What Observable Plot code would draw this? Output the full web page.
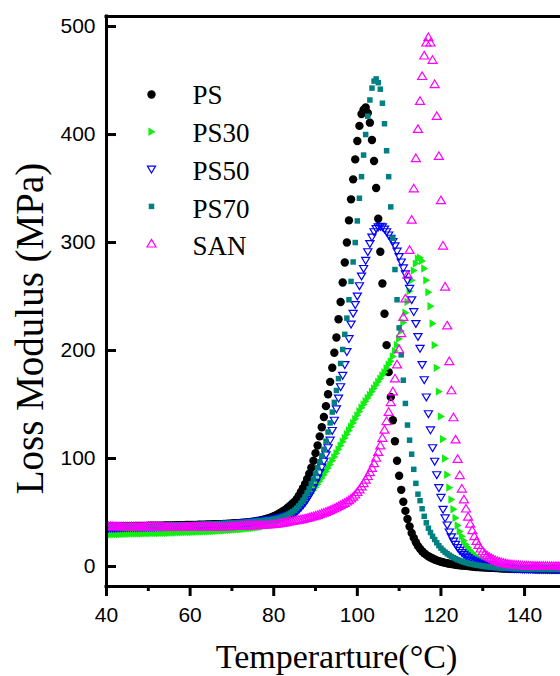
<!DOCTYPE html>
<html>
<head>
<meta charset="utf-8">
<script src="https://cdn.jsdelivr.net/npm/d3@7"></script>
<script src="https://cdn.jsdelivr.net/npm/@observablehq/plot@0.6"></script>
<style>
  html, body { margin: 0; padding: 0; background: #fff; }
</style>
</head>
<body>
<div id="chart"></div>
<script>
// Sample temperatures (°C)
const temperature = [
  40,40.5,41,41.5,42,42.5,43,43.5,44,44.5,
  45,45.5,46,46.5,47,47.5,48,48.5,49,49.5,
  50,50.5,51,51.5,52,52.5,53,53.5,54,54.5,
  55,55.5,56,56.5,57,57.5,58,58.5,59,59.5,
  60,60.5,61,61.5,62,62.5,63,63.5,64,64.5,
  65,65.5,66,66.5,67,67.5,68,68.5,69,69.5,
  70,70.5,71,71.5,72,72.5,73,73.5,74,74.5,
  75,75.5,76,76.5,77,77.5,78,78.5,79,79.5,
  80,80.5,81,81.5,82,82.5,83,83.5,84,84.5,
  85,85.5,86,86.5,87,87.5,88,88.5,89,89.5,
  90,90.5,91,91.5,92,92.5,93,93.5,94,94.5,
  95,95.5,96,96.5,97,97.5,98,98.5,99,99.5,
  100,100.5,101,101.5,102,102.5,103,103.5,104,104.5,
  105,105.5,106,106.5,107,107.5,108,108.5,109,109.5,
  110,110.5,111,111.5,112,112.5,113,113.5,114,114.5,
  115,115.5,116,116.5,117,117.5,118,118.5,119,119.5,
  120,120.5,121,121.5,122,122.5,123,123.5,124,124.5,
  125,125.5,126,126.5,127,127.5,128,128.5,129,129.5,
  130,130.5,131,131.5,132,132.5,133,133.5,134,134.5,
  135,135.5,136,136.5,137,137.5,138,138.5,139,139.5,
  140,140.5,141,141.5,142,142.5,143,143.5,144,144.5,
  145,145.5,146,146.5,147,147.5,148,148.5,149,149.5,
  150
];

// Loss modulus (MPa) per series
const ps = [
  37.0,37.0,37.1,37.1,37.1,37.2,37.2,37.2,37.3,37.3,
  37.3,37.4,37.4,37.4,37.5,37.5,37.5,37.6,37.6,37.6,
  37.7,37.7,37.7,37.8,37.8,37.8,37.9,37.9,38.0,38.0,
  38.0,38.1,38.1,38.2,38.2,38.2,38.3,38.3,38.4,38.4,
  38.5,38.5,38.6,38.6,38.7,38.7,38.8,38.8,38.9,38.9,
  39.0,39.1,39.1,39.2,39.3,39.3,39.4,39.5,39.6,39.7,
  39.9,40.0,40.1,40.2,40.3,40.5,40.6,40.8,41.0,41.2,
  41.5,41.8,42.1,42.5,42.9,43.3,43.8,44.4,45.0,45.7,
  46.5,47.4,48.4,49.5,50.7,52.0,53.4,55.0,56.6,58.3,
  60.0,62.5,65.5,69.0,72.5,76.5,81.0,86.0,91.5,98.0,
  105,112,120.5,129,138.5,148.5,159.5,171,184,198,
  212,229,245,263,281.5,300,320.5,340,358.5,377,
  394,408,419,423,425,420,411,395,375.5,350.5,
  322,291.5,262,234,205,180,157,135.5,116,98,
  84,71,60,51.5,44,37,31,26.5,22.5,19,
  16.5,14.2,12.3,10.8,9.5,8.4,7.4,6.5,5.7,5.0,
  4.4,3.9,3.4,3.0,2.6,2.3,2.0,1.7,1.4,1.2,
  1.0,0.8,0.6,0.4,0.2,0.0,-0.2,-0.4,-0.5,-0.7,
  -0.8,-0.9,-1.0,-1.1,-1.2,-1.3,-1.4,-1.5,-1.6,-1.7,
  -1.8,-1.8,-1.9,-2.0,-2.0,-2.1,-2.1,-2.2,-2.2,-2.3,
  -2.3,-2.3,-2.4,-2.4,-2.4,-2.5,-2.5,-2.5,-2.5,-2.6,
  -2.6,-2.6,-2.6,-2.7,-2.7,-2.7,-2.7,-2.7,-2.8,-2.8,
  -2.8
];

const ps30 = [
  29.8,29.8,29.9,29.9,30.0,30.0,30.1,30.1,30.2,30.2,
  30.3,30.3,30.4,30.4,30.5,30.5,30.6,30.6,30.7,30.7,
  30.8,30.8,30.9,30.9,31.0,31.0,31.1,31.1,31.2,31.3,
  31.3,31.4,31.4,31.5,31.6,31.6,31.7,31.8,31.8,31.9,
  32.0,32.0,32.1,32.2,32.3,32.3,32.4,32.5,32.6,32.7,
  32.8,32.9,33.0,33.1,33.2,33.3,33.4,33.5,33.7,33.8,
  33.9,34.1,34.2,34.4,34.5,34.7,34.9,35.1,35.3,35.5,
  35.7,36.0,36.3,36.6,36.9,37.3,37.7,38.1,38.6,39.1,
  39.7,40.4,41.2,42.0,42.9,43.9,44.9,46.0,47.1,48.3,
  49.5,51.5,53.5,55.7,58.0,60.5,63.0,65.5,68.0,70.7,
  73.4,76.2,79.0,82.0,85.0,88.0,91.2,94.5,98.0,101.5,
  105,108.5,112,115.5,119,122.5,126,129.5,133,136.5,
  140,143.5,147,150,153,156,159,162,165,168,
  171,174,177,180,183.5,187,190,194.5,199.5,205,
  211,218,226,235,245,255,265,274,280.5,285,
  286,283,276,265,254,241,225,205,184,162,
  139,118,100,85,73,62,53,45,38,32.5,
  28,24,20.5,17.5,15,12.8,10.9,9.3,7.9,6.6,
  5.5,4.6,3.8,3.1,2.5,2.0,1.5,1.1,0.7,0.4,
  0.1,-0.2,-0.4,-0.6,-0.8,-1.0,-1.1,-1.3,-1.4,-1.5,
  -1.6,-1.7,-1.8,-1.9,-1.9,-2.0,-2.1,-2.1,-2.2,-2.2,
  -2.3,-2.3,-2.3,-2.4,-2.4,-2.4,-2.5,-2.5,-2.5,-2.5,
  -2.6
];

const ps50 = [
  35.6,35.6,35.7,35.7,35.8,35.8,35.9,35.9,36.0,36.0,
  36.1,36.1,36.2,36.2,36.3,36.3,36.4,36.4,36.5,36.5,
  36.6,36.6,36.7,36.7,36.8,36.8,36.9,36.9,37.0,37.0,
  37.1,37.1,37.2,37.2,37.3,37.4,37.4,37.5,37.6,37.6,
  37.7,37.8,37.8,37.9,38.0,38.1,38.1,38.2,38.3,38.4,
  38.5,38.6,38.7,38.8,38.9,39.0,39.1,39.2,39.3,39.5,
  39.6,39.7,39.9,40.0,40.2,40.4,40.5,40.7,40.9,41.1,
  41.3,41.5,41.8,42.0,42.3,42.5,42.8,43.1,43.4,43.7,
  44.0,44.4,44.8,45.2,45.7,46.2,46.7,47.3,48.0,48.7,
  49.5,51.0,52.8,54.8,57.0,59.5,62.3,65.5,69.0,73.0,
  77.5,82.0,87.0,92.0,97.5,103.5,110.0,117.0,126.0,135.5,
  146,156,166.5,177,187,199,211,224.5,234.5,242.5,
  250.5,260,269,276,283.5,291.5,299,305,310,313,
  314.5,315,314.5,312.5,310,307,304,301,297,292,
  287,282,276.5,271,265,257.5,247,236,225,213,
  202,187,173,157,141.5,126.5,110,97.5,85,73,
  64,53,45,38.5,32,27.5,23.5,20.5,17.5,15,
  13,11.2,9.6,8.2,7,6,5,4.1,3.3,2.6,
  2,1.5,1,0.6,0.2,-0.1,-0.4,-0.7,-0.9,-1.1,
  -1.3,-1.4,-1.6,-1.7,-1.8,-1.9,-2.0,-2.1,-2.1,-2.2,
  -2.3,-2.3,-2.4,-2.4,-2.5,-2.5,-2.5,-2.6,-2.6,-2.6,
  -2.7,-2.7,-2.7,-2.7,-2.8,-2.8,-2.8,-2.8,-2.8,-2.9,
  -2.9
];

const ps70 = [
  37.2,37.2,37.3,37.3,37.3,37.4,37.4,37.4,37.5,37.5,
  37.5,37.6,37.6,37.6,37.7,37.7,37.7,37.8,37.8,37.8,
  37.9,37.9,37.9,38.0,38.0,38.0,38.1,38.1,38.2,38.2,
  38.2,38.3,38.3,38.4,38.4,38.5,38.5,38.6,38.6,38.7,
  38.7,38.8,38.8,38.9,38.9,39.0,39.0,39.1,39.2,39.2,
  39.3,39.4,39.4,39.5,39.6,39.7,39.8,39.9,40.0,40.1,
  40.2,40.3,40.4,40.5,40.6,40.7,40.8,41.0,41.2,41.4,
  41.6,41.8,42.0,42.2,42.4,42.6,42.8,43.0,43.3,43.5,
  43.8,44.2,44.7,45.2,45.8,46.5,47.3,48.3,49.4,50.7,
  52.2,54.0,56.0,58.5,61.3,64.5,68.0,72.0,76.5,81.0,
  86.0,91.5,97.0,102.5,108.5,116.0,124.5,133.0,143.0,152.0,
  163,174,188,201,215,230,247,264,282,300,
  320,341,361,381,400,417,432,443,449.5,451.5,
  448,442,429,410,385,361,333,304,275,247,
  221,196,172.5,151,131,117,104,90,77,67,
  61,53.5,46.5,40.5,35.5,31.5,28,25,22,19.3,
  17,15,13.3,11.8,10.5,9.3,8.2,7.2,6.3,5.5,
  4.8,4.1,3.5,3.0,2.5,2.1,1.7,1.3,1.0,0.7,
  0.4,0.1,-0.1,-0.3,-0.5,-0.7,-0.9,-1.0,-1.2,-1.3,
  -1.4,-1.5,-1.6,-1.7,-1.8,-1.9,-1.9,-2.0,-2.1,-2.1,
  -2.2,-2.2,-2.3,-2.3,-2.3,-2.4,-2.4,-2.4,-2.5,-2.5,
  -2.5,-2.5,-2.6,-2.6,-2.6,-2.6,-2.6,-2.7,-2.7,-2.7,
  -2.7
];

const san = [
  37.2,37.2,37.2,37.2,37.1,37.1,37.1,37.1,37.1,37.0,
  37.0,37.0,37.0,37.0,37.0,36.9,36.9,36.9,36.9,36.9,
  36.9,36.8,36.8,36.8,36.8,36.8,36.8,36.8,36.7,36.7,
  36.7,36.7,36.7,36.7,36.7,36.7,36.7,36.7,36.7,36.7,
  36.7,36.7,36.7,36.7,36.7,36.7,36.7,36.8,36.8,36.8,
  36.8,36.8,36.9,36.9,36.9,37.0,37.0,37.1,37.1,37.2,
  37.2,37.3,37.3,37.4,37.5,37.5,37.6,37.7,37.8,37.9,
  38.0,38.1,38.2,38.3,38.4,38.5,38.7,38.8,39.0,39.1,
  39.3,39.5,39.8,40.0,40.3,40.6,40.9,41.3,41.7,42.0,
  42.4,42.7,43.1,43.5,43.9,44.3,44.8,45.3,45.9,46.4,
  47.0,47.6,48.3,49.0,49.7,50.4,51.2,52.0,52.9,53.8,
  54.7,55.7,56.7,57.7,58.8,60.0,61.3,62.8,64.5,66.5,
  68.8,71.3,74.0,77.0,80.2,83.6,87.2,91.2,95.5,100.5,
  106,112,119,126.5,134.5,143,152,162,174,187,
  201,216,231,248,270,293,321,350,378,405,
  431,454,473,485,490,485,469,446.5,417,380,
  339,297,259,223,190,163,138,117.5,99.5,84.5,
  72,62,53.5,46,39.5,33.5,28,23.5,19.8,16.5,
  14,12,10.3,8.9,7.7,6.7,5.8,5.0,4.3,3.7,
  3.2,2.8,2.4,2.1,1.8,1.6,1.4,1.2,1.0,0.9,
  0.8,0.7,0.7,0.6,0.6,0.5,0.5,0.5,0.4,0.4,
  0.4,0.4,0.3,0.3,0.3,0.3,0.3,0.2,0.2,0.2,
  0.2
];

const seriesNames = ["PS", "PS30", "PS50", "PS70", "SAN"];
const seriesValues = [ps, ps30, ps50, ps70, san];
const xTicks = [40, 60, 80, 100, 120, 140];
const xMinorTicks = [50, 70, 90, 110, 130, 150];
const yTicks = [0, 100, 200, 300, 400, 500];
const xTitle = "Temperarture(°C)";
const yTitle = "Loss Modulus (MPa)";

const rows = seriesNames.flatMap((name, k) =>
  temperature.map((t, i) => ({series: name, t, v: seriesValues[k][i]}))
);

// Marker shapes
const rad = (size) => Math.sqrt(size / Math.PI);
const triUp = {draw(c, size) { const r = rad(size); c.moveTo(0, -1.05 * r); c.lineTo(1.1 * r, 0.8 * r); c.lineTo(-1.1 * r, 0.8 * r); c.closePath(); }};
const triDown = {draw(c, size) { const r = rad(size); c.moveTo(0, 1.05 * r); c.lineTo(1.1 * r, -0.8 * r); c.lineTo(-1.1 * r, -0.8 * r); c.closePath(); }};
const triRight = {draw(c, size) { const r = rad(size); c.moveTo(1.05 * r, 0); c.lineTo(-0.8 * r, -1.1 * r); c.lineTo(-0.8 * r, 1.1 * r); c.closePath(); }};

const styles = {
  PS:   {symbol: "circle", r: 4.2, fill: "#000000", stroke: "none"},
  PS30: {symbol: triRight, r: 3.8, fill: "#11ee11", stroke: "none"},
  PS50: {symbol: triDown, r: 3.7, fill: "none", stroke: "#0000ff", strokeWidth: 1.2},
  PS70: {symbol: "square", r: 3.1, fill: "#008080", stroke: "none"},
  SAN:  {symbol: triUp, r: 4.1, fill: "none", stroke: "#ff00ff", strokeWidth: 1.2}
};

const serif = "'Liberation Serif', 'Times New Roman', serif";
const sans = "'Liberation Sans', Arial, sans-serif";
const yDomain = [-18.5, 509.3];

const marks = [];
for (const name of seriesNames) {
  marks.push(Plot.dot(rows.filter(d => d.series === name), {x: "t", y: "v", ...styles[name], clip: true}));
}

// Legend (inside plot, top-left)
seriesNames.forEach((name, i) => {
  marks.push(Plot.dot([name], {frameAnchor: "top-left", dx: 45, dy: 78 + i * 37.3, ...styles[name]}));
  marks.push(Plot.text([name], {frameAnchor: "top-left", dx: 86, dy: 78.7 + i * 37.9, text: d => d,
    textAnchor: "start", lineAnchor: "middle", fontSize: 27, fontFamily: serif, fill: "#000"}));
});

// Axes
marks.push(
  Plot.ruleX([40], {stroke: "#000", strokeWidth: 3, strokeLinecap: "square"}),
  Plot.ruleY([yDomain[0]], {stroke: "#000", strokeWidth: 3, strokeLinecap: "square"}),
  Plot.ruleY([yDomain[1]], {stroke: "#000", strokeWidth: 3, strokeLinecap: "square"}),
  Plot.axisX(xTicks, {tickSize: 10, tickPadding: 11, strokeWidth: 3, fontSize: 21, fontFamily: sans, label: null}),
  Plot.axisX(xMinorTicks, {tickSize: 5, strokeWidth: 3, fill: "none", label: null}),
  Plot.axisY(yTicks, {tickSize: 0, tickPadding: 11, fontSize: 21, fontFamily: sans, label: null}),
  Plot.axisY(yTicks, {tickSize: -10, strokeWidth: 3, fill: "none", label: null}),
  Plot.text([xTitle], {frameAnchor: "bottom", dx: 3, dy: 71, text: d => d, fontSize: 34, fontFamily: serif,
    textAnchor: "middle", lineAnchor: "middle", fill: "#000"}),
  Plot.text([yTitle], {frameAnchor: "left", dx: -76, dy: 27, rotate: -90, text: d => d, fontSize: 39, fontFamily: serif,
    textAnchor: "middle", lineAnchor: "middle", fill: "#000"})
);

const chart = Plot.plot({
  width: 560,
  height: 676,
  marginLeft: 106,
  marginRight: 0,
  marginTop: 16,
  marginBottom: 90,
  x: {domain: [40, 148.6]},
  y: {domain: yDomain},
  style: {fontFamily: sans, background: "#ffffff", color: "#000000", overflow: "visible"},
  marks
});
document.getElementById("chart").appendChild(chart);
</script>
</body>
</html>
